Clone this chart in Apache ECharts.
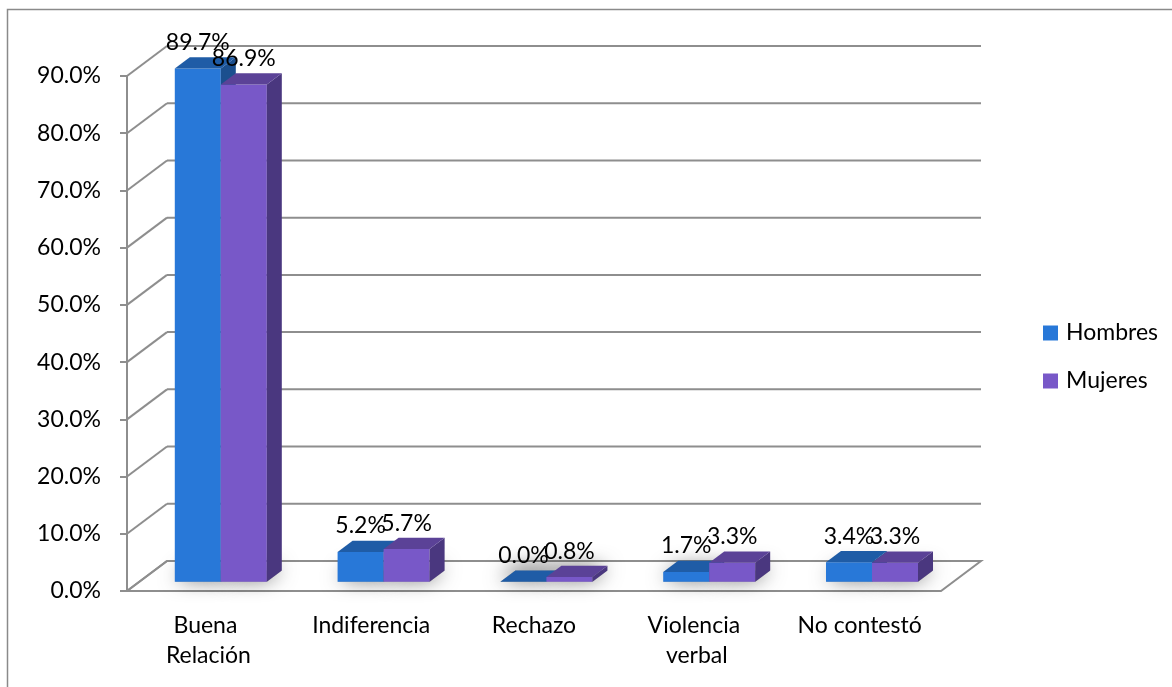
<!DOCTYPE html>
<html><head><meta charset="utf-8">
<script src="https://cdn.jsdelivr.net/npm/echarts@6/dist/echarts.min.js"></script>
<style>html,body{margin:0;padding:0;background:#fff}#c{width:1172px;height:687px}</style>
</head><body><div id="c"></div>
<script>
const categories = ['Buena Relación', 'Indiferencia', 'Rechazo', 'Violencia verbal', 'No contestó'];
const hombres = [89.7, 5.2, 0.0, 1.7, 3.4];
const mujeres = [86.9, 5.7, 0.8, 3.3, 3.3];
const seriesNames = ['Hombres', 'Mujeres'];
const yTicks = [0, 10, 20, 30, 40, 50, 60, 70, 80, 90];

const FONT = 'Lato';
const FS = 23;
const DX = 40, DY = 30;          // floor depth projection
const FRONT = 0.31, DEPTH = 0.375;
const GRID_COL = '#8e8e8e';
const COLORS = {
  Hombres: { front: '#2878d8', top: '#1f5ca6', side: '#1b4f8e' },
  Mujeres: { front: '#7858c8', top: '#5b4297', side: '#4a377f' }
};

function barGeom(api, idx, value, sIdx) {
  const base = api.coord([idx, 0]);
  const topPt = api.coord([idx, value]);
  const band = api.size([1, 0])[0];
  const bw = band * 0.2826;
  const ox = DX * FRONT, oy = -DY * FRONT;
  const cx = base[0] + ox;
  const x0 = sIdx === 0 ? cx - bw : cx;
  const x1 = x0 + bw;
  const yb = base[1] + oy;
  const yt = topPt[1] + oy;
  return { x0, x1, yb, yt, ddx: DX * DEPTH, ddy: -DY * DEPTH };
}

function makeBarRender(sIdx, name) {
  return function (params, api) {
    const idx = api.value(0), v = api.value(1);
    const g = barGeom(api, idx, v, sIdx);
    const c = COLORS[name];
    return {
      type: 'group',
      children: [
        { type: 'polygon', shape: { points: [[g.x0, g.yt], [g.x1, g.yt], [g.x1, g.yb], [g.x0, g.yb]] }, style: { fill: c.front } },
        { type: 'polygon', shape: { points: [[g.x1, g.yt], [g.x1 + g.ddx, g.yt + g.ddy], [g.x1 + g.ddx, g.yb + g.ddy], [g.x1, g.yb]] }, style: { fill: c.side } },
        { type: 'polygon', shape: { points: [[g.x0, g.yt], [g.x0 + g.ddx, g.yt + g.ddy], [g.x1 + g.ddx, g.yt + g.ddy], [g.x1, g.yt]] }, style: { fill: c.top } },
        { type: 'text', z2: 10, style: { text: v.toFixed(1) + '%', x: (g.x0 + g.x1) / 2, y: g.yt - 26, align: 'center', verticalAlign: 'middle', fontFamily: FONT, fontSize: FS, fill: '#000' } }
      ]
    };
  };
}

function shadowRender(params, api) {
  const idx = api.value(0);
  const children = [];
  [hombres[idx], mujeres[idx]].forEach(function (v, s) {
    const g = barGeom(api, idx, 0, s);
    children.push({
      type: 'polygon',
      shape: { points: [[g.x0, g.yb], [g.x1, g.yb], [g.x1 + g.ddx, g.yb + g.ddy], [g.x0 + g.ddx, g.yb + g.ddy]] },
      style: { fill: '#a0a0a0', shadowBlur: 20, shadowColor: 'rgba(0,0,0,0.7)', shadowOffsetX: 0, shadowOffsetY: -3 }
    });
  });
  return { type: 'group', children };
}

function wallRender(params, api) {
  const cs = params.coordSys;
  const v = api.value(1);
  const y = api.coord([0, v])[1];
  const L = cs.x, R = cs.x + cs.width;
  const children = [];
  if (v === 0) {
    children.push({
      type: 'polygon',
      shape: { points: [[L, y], [R, y], [R + DX, y - DY], [L + DX, y - DY]] },
      style: { fill: '#fff', stroke: GRID_COL, lineWidth: 2 }
    });
  }
  children.push({ type: 'line', shape: { x1: L + DX, y1: y - DY, x2: R + DX, y2: y - DY }, style: { stroke: GRID_COL, lineWidth: 2 } });
  children.push({ type: 'line', shape: { x1: L, y1: y, x2: L + DX, y2: y - DY }, style: { stroke: GRID_COL, lineWidth: 2 } });
  return { type: 'group', children };
}

const chart = echarts.init(document.getElementById('c'), null, { renderer: 'canvas' });
chart.setOption({
  animation: false,
  backgroundColor: '#fff',
  graphic: [{
    type: 'rect', shape: { x: 7.5, y: 9.5, width: 1300, height: 800 },
    style: { fill: 'none', stroke: '#8a8a8a', lineWidth: 1.5 }, silent: true, z: 0
  }],
  grid: { left: 127, right: 231, top: 76, bottom: 96, containLabel: false },
  legend: {
    orient: 'vertical', left: 1038, top: 316, itemWidth: 15, itemHeight: 15, itemGap: 24,
    icon: 'rect', data: seriesNames,
    textStyle: { fontFamily: FONT, fontSize: FS, color: '#000', lineHeight: 24, padding: [0, 0, 0, 3] }
  },
  xAxis: {
    type: 'category', data: categories,
    axisLine: { show: false }, axisTick: { show: false },
    axisLabel: { interval: 0, fontFamily: FONT, fontSize: FS, color: '#000', margin: 20, lineHeight: 30, width: 140, overflow: 'break' }
  },
  yAxis: {
    type: 'value', min: 0, max: 90, interval: 10,
    axisLine: { show: true, lineStyle: { color: GRID_COL, width: 2 } },
    axisTick: { show: true, length: 7, lineStyle: { color: GRID_COL, width: 2 } },
    splitLine: { show: false },
    axisLabel: { fontFamily: FONT, fontSize: FS, color: '#000', margin: 26, padding: [6, 0, 0, 0], formatter: function (v) { return v.toFixed(1) + '%'; } }
  },
  series: [
    { type: 'custom', name: 'walls', z: 1, silent: true, clip: false, renderItem: wallRender, data: yTicks.map(function (v) { return [0, v]; }), encode: { x: 0, y: 1 } },
    { type: 'custom', name: 'shadow', z: 2, silent: true, clip: false, renderItem: shadowRender, data: categories.map(function (c, i) { return [i, 0]; }), encode: { x: 0, y: 1 } },
    { type: 'custom', name: 'Hombres', z: 3, clip: false, itemStyle: { color: COLORS.Hombres.front }, renderItem: makeBarRender(0, 'Hombres'), data: hombres.map(function (v, i) { return [i, v]; }), encode: { x: 0, y: 1 } },
    { type: 'custom', name: 'Mujeres', z: 4, clip: false, itemStyle: { color: COLORS.Mujeres.front }, renderItem: makeBarRender(1, 'Mujeres'), data: mujeres.map(function (v, i) { return [i, v]; }), encode: { x: 0, y: 1 } }
  ]
});
</script></body></html>
